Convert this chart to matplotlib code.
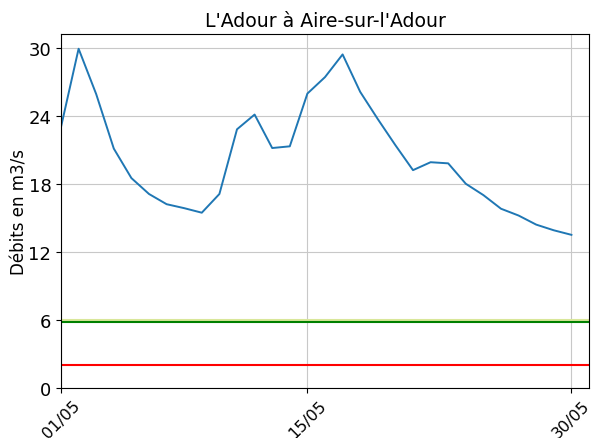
import matplotlib
matplotlib.use("Agg")
import matplotlib.pyplot as plt

# Débits journaliers (m3/s), du 01/05 au 30/05
jours = list(range(30))
debits = [23.0, 29.9, 25.9, 21.1, 18.5, 17.1, 16.2, 15.85, 15.45, 17.1,
          22.8, 24.1, 21.15, 21.3, 25.95, 27.4, 29.4, 26.1, 23.7, 21.4,
          19.2, 19.9, 19.8, 18.0, 17.0, 15.8, 15.2, 14.4, 13.9, 13.5]

# seuils
seuil_vigilance = 5.95
seuil_alerte = 5.83
seuil_crise = 2.0

tick_pos = [0, 14, 29]
tick_labels = ["01/05", "15/05", "30/05"]
y_ticks = [0, 6, 12, 18, 24, 30]

fig = plt.figure(figsize=(5.91, 4.39), dpi=100)
ax = fig.add_axes([61 / 591, 50 / 439, 528 / 591, 354 / 439])

ax.plot(jours, debits, color="#1f77b4", linewidth=1.4)
ax.axhline(seuil_vigilance, color="#d9e79a", linewidth=1.5)
ax.axhline(seuil_alerte, color="green", linewidth=1.5)
ax.axhline(seuil_crise, color="red", linewidth=1.5)

ax.set_xlim(0, 30)
ax.set_ylim(0, 31.2)
ax.set_xticks(tick_pos)
ax.set_xticklabels(tick_labels, rotation=45, fontsize=11.5)
ax.set_yticks(y_ticks)
ax.tick_params(axis="y", labelsize=13)
ax.set_ylabel("Débits en m3/s", fontsize=12, labelpad=0)
ax.set_title("L'Adour à Aire-sur-l'Adour", fontsize=13.6)
ax.grid(True, color="#c8c8c8")

fig.savefig("out.png", dpi=100)
